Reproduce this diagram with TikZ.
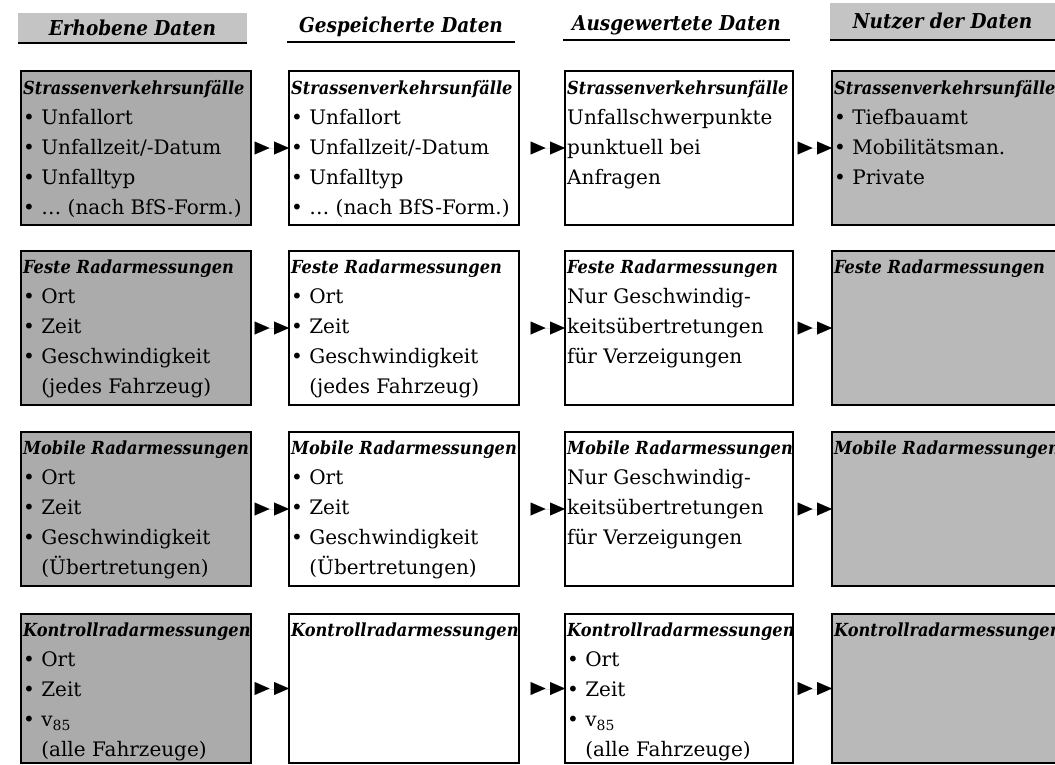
\documentclass[tikz,border=0pt]{standalone}
\usepackage{fontspec}
\setmainfont{DejaVu Serif}
\newfontfamily\condserif{DejaVu Serif Condensed}
\usetikzlibrary{arrows.meta}

\definecolor{screendark}{HTML}{ABABAB}
\definecolor{screenlight}{HTML}{B9B9B9}
\definecolor{screenhead}{HTML}{C4C4C4}

\newcommand\bodyfont{\fontsize{20}{30}\selectfont}
\newcommand\boxtitle[1]{{\condserif\fontsize{18}{30}\selectfont\bfseries\itshape #1}}
\newcommand\itm{\textbullet\ }
\newcommand\itmindent{\hphantom{\textbullet\ }}
% text of a box, cut off at the box outline
\newcommand\boxcontent[4]{%
  \begin{scope}
    \clip (#1.north west) rectangle (#1.south east);
    \node[boxtext] (#2) at #3 {#4};
  \end{scope}}

\begin{document}
\begin{tikzpicture}[x=1pt,y=-1pt,
  databox/.style={draw=black, line width=2.6pt, rectangle, anchor=north west,
    inner sep=0pt, outer sep=0pt, minimum height=154pt},
  userbox/.style={databox, fill=screenlight},
  rawbox/.style={databox, fill=screendark},
  plainbox/.style={databox, fill=white},
  boxtext/.style={anchor=north west, inner sep=0pt, align=left, font=\bodyfont},
  headnode/.style={anchor=north west, inner sep=0pt, outer sep=0pt,
    minimum height=30pt, font=\condserif\fontsize{20.5}{24}\selectfont\bfseries\itshape},
  headrule/.style={line width=2.4pt},
  flow/.style={line width=0.01pt, shorten <=#1,
    -{Triangle[length=15pt,width=13pt,sep=4.5pt]Triangle[length=15pt,width=13pt]}}
]
\useasboundingbox (0,0) rectangle (1055,764);
\clip (0,0) rectangle (1055,764);

% column headings
\node[headnode, fill=screenhead, minimum width=229pt] (h1) at (18,13) {Erhobene Daten};
\node[headnode, minimum width=228pt] (h2) at (287,12) {Gespeicherte Daten};
\node[headnode, minimum width=227pt] (h3) at (563,10) {Ausgewertete Daten};
\node[headnode, fill=screenhead, minimum width=225pt, minimum height=37pt] (h4) at (830,3) {Nutzer der Daten};
\foreach \h in {h1,h2,h3,h4}
  \draw[headrule] (\h.south west) -- (\h.south east);

% row 1: Strassenverkehrsunfälle
\node[rawbox, minimum width=230pt] (a1) at (21,71) {};
\node[plainbox, minimum width=230pt] (a2) at (289,71) {};
\node[plainbox, minimum width=228pt] (a3) at (565,71) {};
\node[userbox, minimum width=260pt] (a4) at (832,71) {};

% row 2: feste Radarmessungen
\node[rawbox, minimum width=230pt] (b1) at (21,251) {};
\node[plainbox, minimum width=230pt] (b2) at (289,251) {};
\node[plainbox, minimum width=228pt] (b3) at (565,251) {};
\node[userbox, minimum width=260pt] (b4) at (832,251) {};

% row 3: mobile Radarmessungen
\node[rawbox, minimum width=230pt] (c1) at (21,432) {};
\node[plainbox, minimum width=230pt] (c2) at (289,432) {};
\node[plainbox, minimum width=228pt] (c3) at (565,432) {};
\node[userbox, minimum width=260pt] (c4) at (832,432) {};

% row 4: Kontrollradarmessungen
\node[rawbox, minimum width=230pt, minimum height=149pt] (d1) at (21,614) {};
\node[plainbox, minimum width=230pt, minimum height=149pt] (d2) at (289,614) {};
\node[plainbox, minimum width=228pt, minimum height=149pt] (d3) at (565,614) {};
\node[userbox, minimum width=260pt, minimum height=149pt] (d4) at (832,614) {};

% box contents
\boxcontent{a1}{ta1}{(23,80)}{\boxtitle{Strassenverkehrsunfälle}\\
  \itm Unfallort\\ \itm Unfallzeit/-Datum\\ \itm Unfalltyp\\ \itm \dots\ (nach BfS-Form.)}
\boxcontent{a2}{ta2}{(291,80)}{\boxtitle{Strassenverkehrsunfälle}\\
  \itm Unfallort\\ \itm Unfallzeit/-Datum\\ \itm Unfalltyp\\ \itm \dots\ (nach BfS-Form.)}
\boxcontent{a3}{ta3}{(567,80)}{\boxtitle{Strassenverkehrsunfälle}\\
  Unfallschwerpunkte\\ punktuell bei\\ Anfragen}
\boxcontent{a4}{ta4}{(834,80)}{\boxtitle{Strassenverkehrsunfälle}\\
  \itm Tiefbauamt\\ \itm Mobilitätsman.\\ \itm Private}

\boxcontent{b1}{tb1}{(23,260)}{\boxtitle{Feste Radarmessungen}\\
  \itm Ort\\ \itm Zeit\\ \itm Geschwindigkeit\\ \itmindent(jedes Fahrzeug)}
\boxcontent{b2}{tb2}{(291,260)}{\boxtitle{Feste Radarmessungen}\\
  \itm Ort\\ \itm Zeit\\ \itm Geschwindigkeit\\ \itmindent(jedes Fahrzeug)}
\boxcontent{b3}{tb3}{(567,260)}{\boxtitle{Feste Radarmessungen}\\
  Nur Geschwindig-\\ keitsübertretungen\\ für Verzeigungen}
\boxcontent{b4}{tb4}{(834,260)}{\boxtitle{Feste Radarmessungen}}

\boxcontent{c1}{tc1}{(23,441)}{\boxtitle{Mobile Radarmessungen}\\
  \itm Ort\\ \itm Zeit\\ \itm Geschwindigkeit\\ \itmindent(Übertretungen)}
\boxcontent{c2}{tc2}{(291,441)}{\boxtitle{Mobile Radarmessungen}\\
  \itm Ort\\ \itm Zeit\\ \itm Geschwindigkeit\\ \itmindent(Übertretungen)}
\boxcontent{c3}{tc3}{(567,441)}{\boxtitle{Mobile Radarmessungen}\\
  Nur Geschwindig-\\ keitsübertretungen\\ für Verzeigungen}
\boxcontent{c4}{tc4}{(834,441)}{\boxtitle{Mobile Radarmessungen}}

\boxcontent{d1}{td1}{(23,623)}{\boxtitle{Kontrollradarmessungen}\\
  \itm Ort\\ \itm Zeit\\ \itm v\textsubscript{85}\\ \itmindent(alle Fahrzeuge)}
\boxcontent{d2}{td2}{(291,623)}{\boxtitle{Kontrollradarmessungen}}
\boxcontent{d3}{td3}{(567,623)}{\boxtitle{Kontrollradarmessungen}\\
  \itm Ort\\ \itm Zeit\\ \itm v\textsubscript{85}\\ \itmindent(alle Fahrzeuge)}
\boxcontent{d4}{td4}{(834,623)}{\boxtitle{Kontrollradarmessungen}}

% data flow between the stages; the gap before the tips stays empty
\foreach \r in {a,b,c,d} {
  \draw[flow=3pt] (\r1.east) -- (\r2.west);
  \draw[flow=11pt] (\r2.east) -- (\r3.west);
  \draw[flow=4pt] (\r3.east) -- (\r4.west);
}
\end{tikzpicture}
\end{document}
